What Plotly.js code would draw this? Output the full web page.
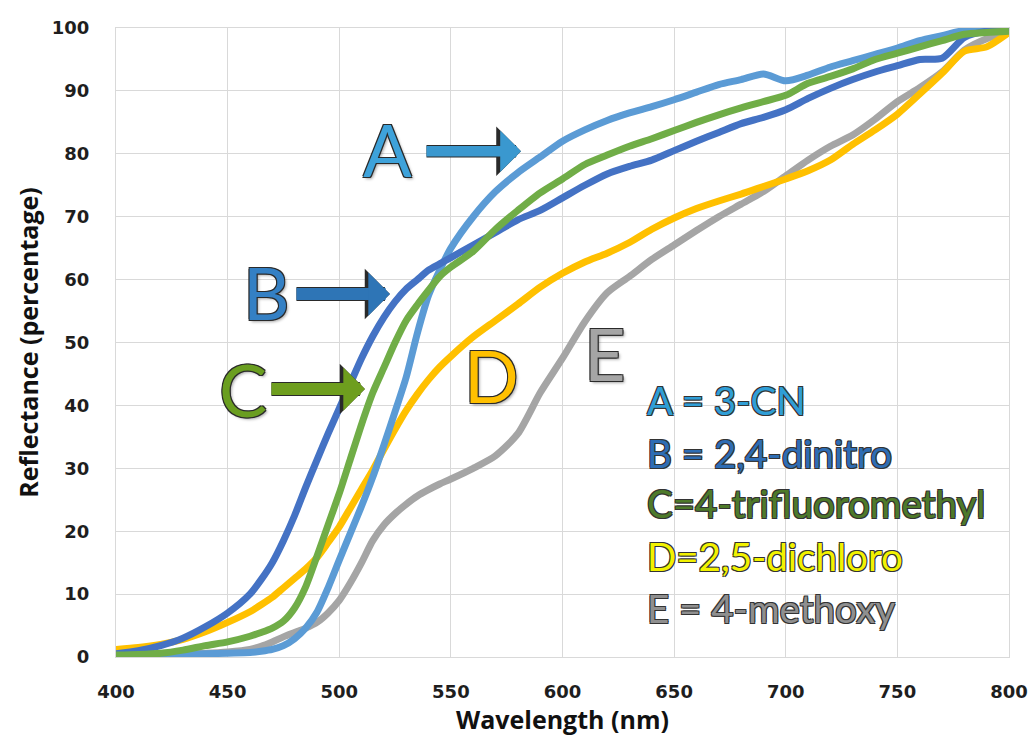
<!DOCTYPE html>
<html>
<head>
<meta charset="utf-8">
<script src="https://cdn.plot.ly/plotly-3.0.1.min.js"></script>
<style>html,body{margin:0;padding:0;background:#fff;}#chart{width:1029px;height:745px;}</style>
</head>
<body>
<div id="chart"></div>
<script>
// Wavelength (nm)
const wavelength = [400,410,420,430,440,450,460,465,470,475,480,485,490,495,500,505,510,515,520,525,530,535,540,545,550,560,570,580,590,600,610,620,630,640,650,660,670,680,690,700,710,720,730,740,750,760,770,780,790,800];

// Reflectance (%) per compound
const seriesA_3CN = [0.2,0.3,0.3,0.4,0.5,0.6,0.7,0.9,1.2,1.8,2.9,4.6,7.1,11,15.4,19.7,24,28.6,33.7,39,44.5,51.5,57.5,61.5,65,70,74,77,79.5,82,83.8,85.3,86.5,87.5,88.6,89.8,91,91.8,92.7,91.6,92.5,93.8,94.8,95.8,96.8,98,98.8,99.6,99.5,99.6];
const seriesB_dinitro = [0.5,1.0,1.8,3.0,4.8,7.0,10,12.3,15,18.5,22.5,27,31.3,35.5,39.5,43.5,47.5,51,54,56.5,58.5,60,61.5,62.5,63.5,65.5,67.5,69.5,71,73,75,76.8,78,79,80.5,82,83.4,84.8,85.8,87,88.8,90.4,91.8,93,94,95,95.2,98.5,99.5,99.7];
const seriesC_CF3 = [0.3,0.4,0.6,1.1,1.8,2.4,3.3,3.9,4.6,5.7,7.8,11.2,16,21,26,31.5,37,42,46,50,53.5,56,58.3,60.5,62,64.5,68,71,73.8,76,78.3,79.8,81.2,82.4,83.7,85,86.2,87.3,88.3,89.3,91.2,92.3,93.5,95,96,97,98,99,99.3,99.5];
const seriesD_dichloro = [1.2,1.5,2.0,2.8,4.0,5.5,7.2,8.3,9.5,11,12.5,14,15.8,18.2,20.7,23.7,26.7,29.7,33,36.2,39.2,41.8,44.1,46.1,47.8,50.9,53.5,56.1,58.8,61,62.8,64.2,65.9,68,69.8,71.3,72.5,73.6,74.8,76,77.3,79,81.5,83.8,86.3,89.5,92.8,96.3,97,99.3];
const seriesE_methoxy = [0.3,0.3,0.4,0.5,0.6,0.8,1.2,1.7,2.4,3.2,3.9,4.6,5.5,7,9,11.8,15,18.5,21,22.8,24.3,25.6,26.6,27.5,28.3,30,32,35.5,42,47.5,53.3,57.9,60.5,63.2,65.5,67.8,70,72,74,76.5,79,81.2,83,85.5,88.3,90.5,93,96.5,98.3,99.3];

const seriesNames = ['A = 3-CN','B = 2,4-dinitro','C=4-trifluoromethyl','D=2,5-dichloro','E = 4-methoxy'];
const xTicks = [400,450,500,550,600,650,700,750,800];
const yTicks = [0,10,20,30,40,50,60,70,80,90,100];

const lineColors = {A:'#5B9BD5', B:'#4472C4', C:'#70AD47', D:'#FFC000', E:'#A5A5A5'};
const LW = 7;
function tr(y, c, name){
  return {x: wavelength, y: y, type:'scatter', mode:'lines', name: name,
          line:{color:c, width:LW, shape:'spline', smoothing:0.7}, hoverinfo:'x+y+name'};
}
const data = [
  tr(seriesE_methoxy, lineColors.E, seriesNames[4]),
  tr(seriesD_dichloro, lineColors.D, seriesNames[3]),
  tr(seriesA_3CN, lineColors.A, seriesNames[0]),
  tr(seriesB_dinitro, lineColors.B, seriesNames[1]),
  tr(seriesC_CF3, lineColors.C, seriesNames[2])
];

const outline = '-1px -1px 0 #2a2a2a, 1px -1px 0 #2a2a2a, -1px 1px 0 #2a2a2a, 1px 1px 0 #2a2a2a, 2px 2px 3px rgba(0,0,0,0.35)';
const thinOutline = '-1px -1px 0 #333, 1px -1px 0 #333, -1px 1px 0 #333, 1px 1px 0 #333';

function letter(t, x, y, color){
  return {text:t, x:x, y:y, xref:'x', yref:'y', showarrow:false, xanchor:'center', yanchor:'middle',
          font:{family:'Lato, "Open Sans", sans-serif', size:72, color:color, shadow:outline}};
}
function arrow(x, y, ax, color, w, s){
  return {text:'', x:x, y:y, xref:'x', yref:'y', ax:ax, ay:0, axref:'pixel', ayref:'pixel',
          showarrow:true, arrowhead:1, arrowwidth:w, arrowsize:s, arrowcolor:color, standoff:0};
}
function legendLine(t, y, color){
  return {text:t, x:637, y:y, xref:'x', yref:'y', showarrow:false, xanchor:'left', yanchor:'middle',
          font:{family:'Lato, "Open Sans", sans-serif', size:38.5, color:color, shadow:thinOutline}};
}

const annotations = [
  arrow(581.4, 80.4, -96, '#2a2a2a', 12.5, 0.66),
  arrow(581.4, 80.4, -96, '#3A98CF', 10.5, 0.66),
  arrow(522.7, 57.7, -95, '#2a2a2a', 14, 0.6),
  arrow(522.7, 57.7, -95, '#2E75B6', 12, 0.6),
  arrow(511.5, 42.6, -95, '#2a2a2a', 14, 0.6),
  arrow(511.5, 42.6, -95, '#6E9E1E', 12, 0.6),
  letter('A', 521.8, 80.7, '#3EA2DA'),
  letter('B', 467.6, 58.1, '#3480C4'),
  letter('C', 456.9, 42.6, '#6A9E20'),
  letter('D', 568.4, 44.8, '#FFC000'),
  letter('E', 619.0, 48.3, '#A5A5A5'),
  legendLine(seriesNames[0], 40.9, '#2F9ED6'),
  legendLine(seriesNames[1], 32.5, '#2E6DB4'),
  legendLine(seriesNames[2], 24.5, '#4E7A2A'),
  legendLine(seriesNames[3], 16.0, '#F2F200'),
  legendLine(seriesNames[4], 7.8, '#8F8F8F')
];

const layout = {
  width:1029, height:745,
  margin:{l:116, r:20, t:28, b:88, pad:0},
  paper_bgcolor:'#ffffff', plot_bgcolor:'#ffffff',
  showlegend:false,
  xaxis:{range:[400,800], tickmode:'array', tickvals:xTicks, ticktext:xTicks.map(String),
         showgrid:true, gridcolor:'#D9D9D9', gridwidth:1, zeroline:false,
         showline:true, linecolor:'#D9D9D9', linewidth:1, mirror:true, ticks:'',
         ticklabelstandoff:18,
         tickfont:{family:'"DejaVu Sans", sans-serif', size:18, color:'#1e1e1e', weight:'bold'},
         title:{text:'Wavelength (nm)', standoff:10,
                font:{family:'"Open Sans", Lato, sans-serif', size:25, color:'#111', weight:'bold'}}},
  yaxis:{range:[0,100], tickmode:'array', tickvals:yTicks, ticktext:yTicks.map(String),
         showgrid:true, gridcolor:'#D9D9D9', gridwidth:1, zeroline:false,
         showline:true, linecolor:'#D9D9D9', linewidth:1, mirror:true, ticks:'',
         ticklabelstandoff:22,
         tickfont:{family:'"DejaVu Sans", sans-serif', size:18, color:'#1e1e1e', weight:'bold'},
         title:{text:'Reflectance (percentage)', standoff:6,
                font:{family:'"Open Sans", Lato, sans-serif', size:25, color:'#111', weight:'bold'}}},
  annotations: annotations
};

Plotly.newPlot('chart', data, layout, {displayModeBar:false, staticPlot:true});
</script>
</body>
</html>
